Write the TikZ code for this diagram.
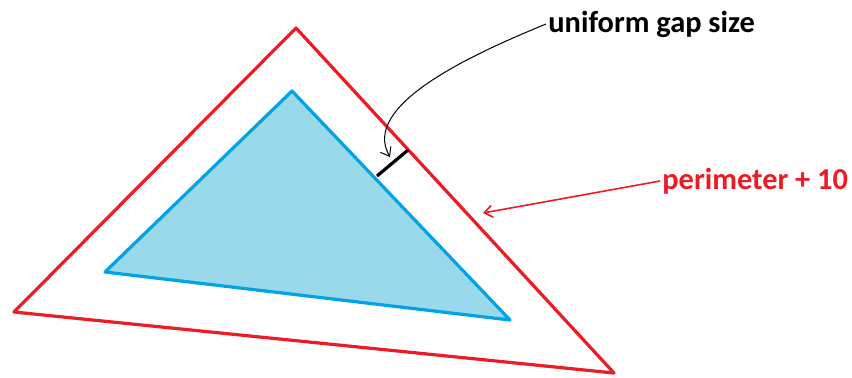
\documentclass[tikz,border=0pt]{standalone}
\usepackage{fontspec}
\setmainfont{Carlito}
\usepackage{xcolor}
\usetikzlibrary{arrows.meta,calc}

\definecolor{paintred}{RGB}{237,28,36}
\definecolor{paintblue}{RGB}{0,162,232}
\definecolor{paintfill}{RGB}{153,217,234}

\begin{document}
\begin{tikzpicture}[
    x=0.5pt, y=-0.5pt,
    outer/.style={draw=paintred, line width=1.6pt, line join=round},
    inner/.style={draw=paintblue, fill=paintfill, line width=1.6pt, line join=round},
    gapline/.style={draw=black, line width=1.6pt},
    label/.style={font=\fontsize{15.2}{18}\selectfont\bfseries, inner sep=1pt},
    arrow/.style={->, >={Straight Barb[length=4pt,width=6pt]}}
]
    \useasboundingbox (0,0) rectangle (852,377);

    % triangles
    \coordinate (o1) at (296,28);
    \coordinate (o2) at (14,312);
    \coordinate (o3) at (614,373);
    \coordinate (i1) at (292,91);
    \coordinate (i2) at (105,272);
    \coordinate (i3) at (510,320);

    \draw[outer] (o1) -- (o2) -- (o3) -- cycle;
    \draw[inner] (i1) -- (i2) -- (i3) -- cycle;

    % gap marker
    \coordinate (g1) at (377,176);
    \coordinate (g2) at (408,150);
    \draw[gapline] (g1) -- (g2);

    % labels
    \node[label, anchor=west] (gap) at (546,24) {uniform gap size};
    \node[label, anchor=west, text=paintred] (perim) at (660,181) {perimeter + 10};

    \coordinate (gaptip) at (390,157);
    \coordinate (perimtip) at (483,213);

    \draw[arrow, line width=0.5pt] (gap.west) .. controls (473,54) and (360,105) .. (gaptip);
    \draw[arrow, paintred, line width=0.8pt] (perim.west) -- (perimtip);
\end{tikzpicture}
\end{document}
